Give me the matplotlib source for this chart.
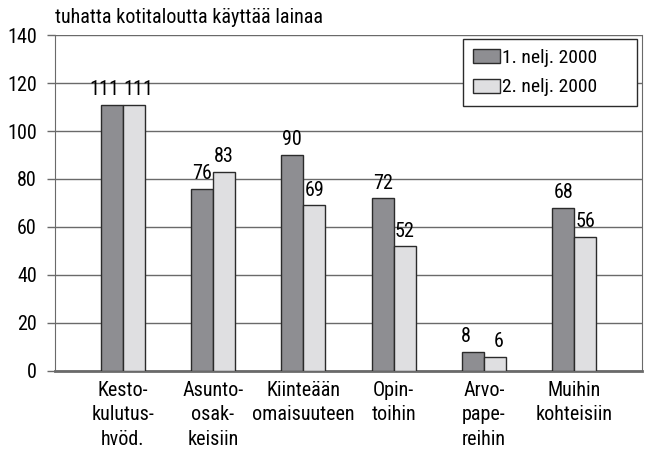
"""
Kotitalouksien lainankäyttö kohteittain, 1. ja 2. neljännes 2000.
"""

import matplotlib
matplotlib.use('Agg')
import matplotlib.pyplot as plt
from matplotlib import font_manager

# pick a narrow font if one is around
names = {f.name for f in font_manager.fontManager.ttflist}
font = 'DejaVu Sans'
for cand in ['Liberation Sans Narrow', 'Roboto Condensed', 'Open Sans Condensed', 'Liberation Sans']:
    if cand in names:
        font = cand
        break
plt.rcParams['font.family'] = [font, 'DejaVu Sans']

# Data
categories = ['Kesto-\nkulutus-\nhvöd.', 'Asunto-\nosak-\nkeisiin', 'Kiinteään\nomaisuuteen',
              'Opin-\ntoihin', 'Arvo-\npape-\nreihin', 'Muihin\nkohteisiin']
q1_2000 = [111, 76, 90, 72, 8, 68]
q2_2000 = [111, 83, 69, 52, 6, 56]
series_names = ['1. nelj. 2000', '2. nelj. 2000']
yticks = [0, 20, 40, 60, 80, 100, 120, 140]

dark = '#8e8e92'
light = '#dfdfe1'
edge = '#2b2b2b'
grid = '#6a6a6a'
fs = 14.5

fig = plt.figure(figsize=(6.47, 4.5), dpi=100)
ax = fig.add_axes([0.085, 0.1756, 0.9072, 0.7466])

x = list(range(len(categories)))
w = 0.245
b1 = ax.bar([i - w/2 for i in x], q1_2000, width=w, color=dark, edgecolor=edge, linewidth=1,
            label=series_names[0], zorder=3)
b2 = ax.bar([i + w/2 for i in x], q2_2000, width=w, color=light, edgecolor=edge, linewidth=1,
            label=series_names[1], zorder=3)

for k, (bars, vals) in enumerate([(b1, q1_2000), (b2, q2_2000)]):
    for j, (r, v) in enumerate(zip(bars, vals)):
        # push equal-height labels apart a little so they don't touch
        dx = 0
        if abs(q1_2000[j] - q2_2000[j]) < 5:
            dx = -5 if k == 0 else 3
        ax.annotate(str(v), (r.get_x() + r.get_width()/2, v), xytext=(dx, 4),
                    textcoords='offset points', ha='center', va='bottom', fontsize=fs)

ax.set_xlim(-0.75, 5.75)
ax.set_ylim(0, 140)
ax.set_yticks(yticks)
ax.set_xticks(x)
ax.set_xticklabels(categories, fontsize=fs, linespacing=1.36)
ax.tick_params(axis='x', length=0, pad=7)
ax.tick_params(axis='y', length=6, width=1, color=grid, pad=7, labelsize=fs)
ax.yaxis.grid(True, color=grid, linewidth=1, zorder=0)
ax.set_axisbelow(True)

ax.spines['top'].set_visible(False)
ax.spines['left'].set_color(grid)
ax.spines['right'].set_color(grid)
ax.spines['bottom'].set_color(grid)
ax.spines['bottom'].set_linewidth(2)

ax.annotate('tuhatta kotitaloutta käyttää lainaa', (0, 1), xycoords='axes fraction',
            xytext=(0, 6), textcoords='offset points', ha='left', va='bottom', fontsize=fs)

leg = ax.legend(loc='upper left', bbox_to_anchor=(0.695, 0.80, 0.2965, 0.188), mode='expand',
                fontsize=14, frameon=True, fancybox=False, edgecolor=edge, framealpha=1,
                handlelength=1.4, handleheight=0.75, handletextpad=0.1, borderpad=0.5,
                labelspacing=0.6, borderaxespad=0)
leg.get_frame().set_linewidth(1)

plt.savefig('out.png', dpi=100)
